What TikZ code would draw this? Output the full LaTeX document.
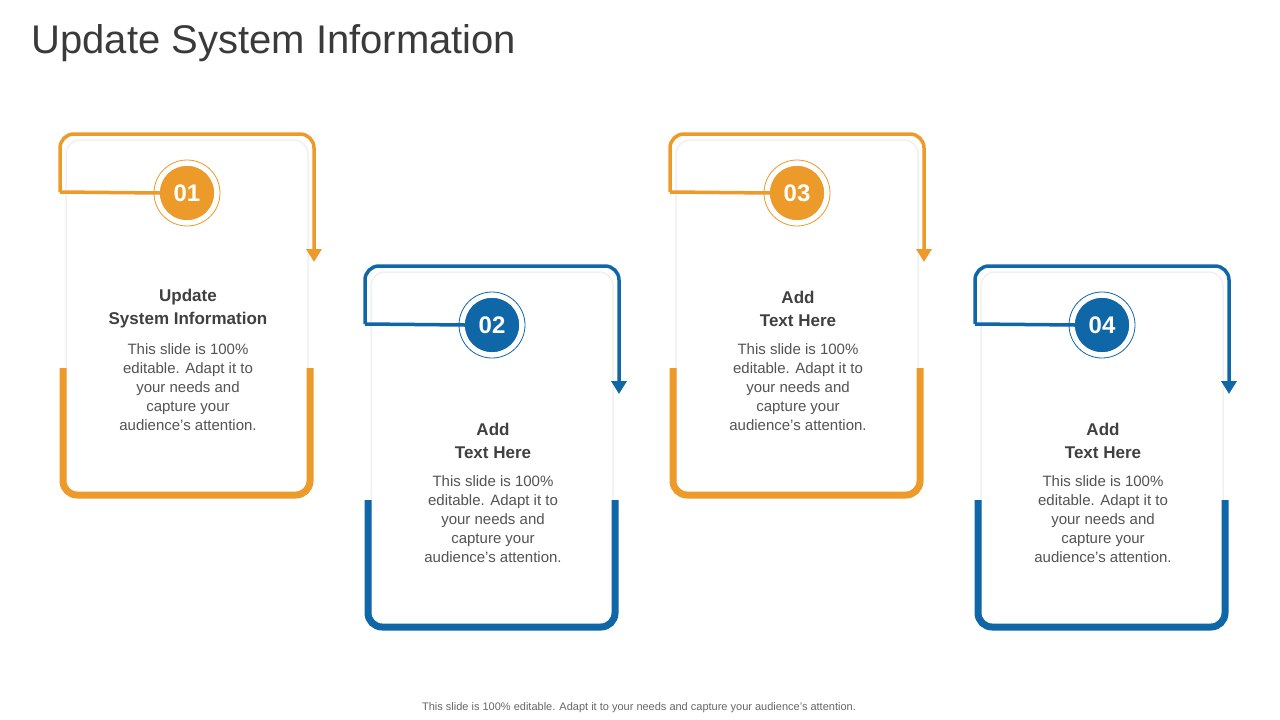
\documentclass[tikz,border=0pt]{standalone}
\usepackage{fontspec}
\setmainfont{Liberation Sans}
\usetikzlibrary{arrows.meta}
\definecolor{orng}{HTML}{EC9A29}
\definecolor{blu}{HTML}{0F67A8}
\definecolor{txt}{HTML}{404040}
\tikzset{
  numcirc/.style={circle,fill=#1,text=white,minimum size=54pt,inner sep=0pt,font=\fontsize{24}{28}\selectfont\bfseries},
  ring/.style={draw=#1,line width=0.8pt},
  head/.style={text=txt,align=center,font=\fontsize{17}{23}\selectfont\bfseries},
  body/.style={text=txt!90,align=center,font=\fontsize{15}{19}\selectfont},
}
\begin{document}
\begin{tikzpicture}[x=1pt,y=-1pt]
  \useasboundingbox (0,0) rectangle (1280,720);
  \node[anchor=west,text=txt!90!black,font=\fontsize{40}{46}\selectfont] (title) at (28,43) {Update System Information};
  \foreach \i/\x/\y/\col/\hd in {1/60/134/orng/{Update\\System Information},2/365/266/blu/{Add\\Text Here},3/670/134/orng/{Add\\Text Here},4/975/266/blu/{Add\\Text Here}} {
    % card background
    \draw[black!6,fill=white,line width=1.5pt,rounded corners=14] (\x+6,\y+6) rectangle (\x+248,\y+360);
    % bottom frame
    \coordinate (bl\i) at (\x+3,\y+234);
    \coordinate (br\i) at (\x+250,\y+234);
    \draw[\col,line width=7pt,rounded corners=14] (bl\i) |- (\x+126,\y+361) -| (br\i);
    % top arrow
    \coordinate (s\i) at (\x,\y+58);
    \coordinate (e\i) at (\x+254,\y+128);
    \node[numcirc=\col] (num\i) at (\x+127,\y+59) {0\i};
    \draw[\col,line width=3.5pt] (s\i) -- (num\i.west);
    \draw[\col,line width=3.5pt,rounded corners=14,-{Triangle[length=13pt,width=15pt]}] (s\i) |- (\x+254,\y) -- (e\i);
    \node[numcirc=\col] at (num\i) {0\i};
    \draw[ring=\col] (num\i) circle (33);
    \node[head] (hd\i) at (\x+128,\y+175) {\hd};
    \node[body] (bd\i) at (\x+128,\y+253) {This slide is 100\%\\editable. Adapt it to\\your needs and\\capture your\\audience's attention.};
  }
  \node[text=txt!80,font=\fontsize{11}{13}\selectfont] (foot) at (639,708) {This slide is 100\% editable. Adapt it to your needs and capture your audience's attention.};
\end{tikzpicture}
\end{document}
